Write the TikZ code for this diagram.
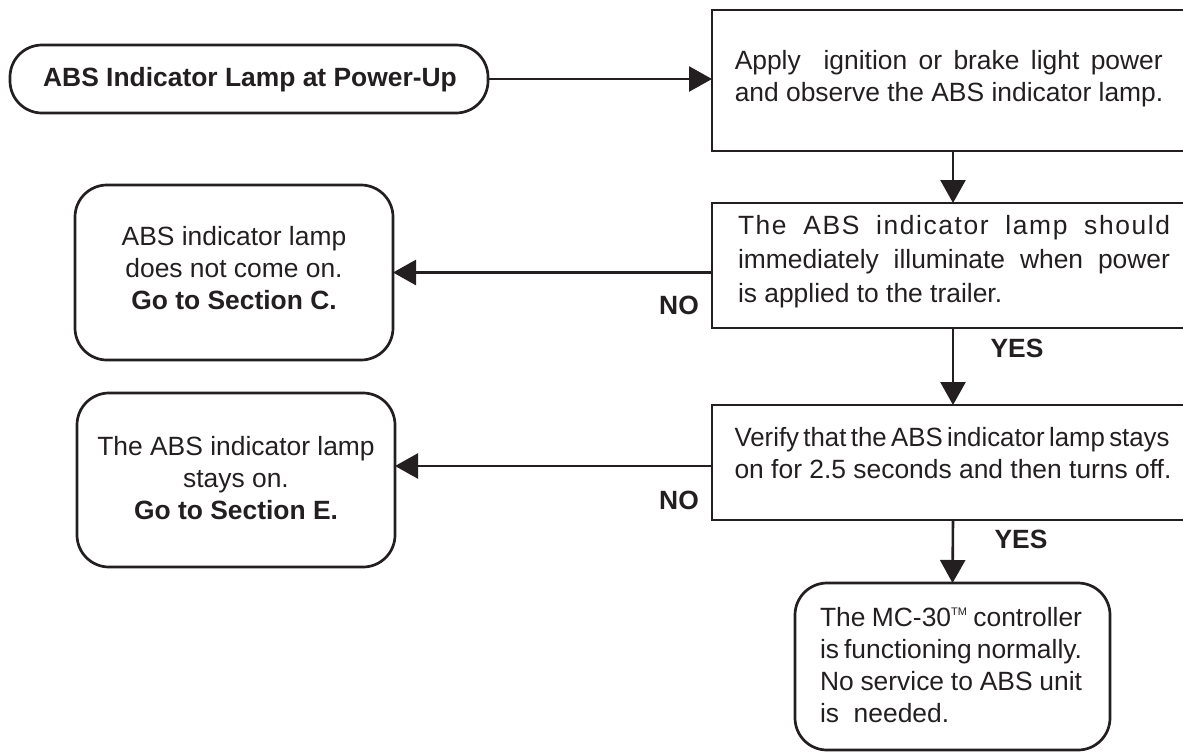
\documentclass[tikz,border=0pt]{standalone}
\usepackage{fontspec}
\setmainfont{Liberation Sans}
\usepackage{graphicx}
\usetikzlibrary{arrows.meta}
\definecolor{ink}{HTML}{231F20}
\begin{document}
\begin{tikzpicture}[x=1pt,y=-1pt,
  every node/.style={inner sep=0pt, outer sep=0pt},
  body/.style={font=\fontsize{26.4}{32}\selectfont, text=ink},
  lbl/.style={font=\fontsize{26.4}{32}\selectfont\bfseries, text=ink},
  rbox/.style={draw=ink, line width=2.7pt, rounded corners=32pt},
  sbox/.style={draw=ink, line width=2.7pt},
  arr/.style={draw=ink, line width=2.6pt, -{Triangle[length=23pt,width=25pt]}}
]
\useasboundingbox (0,0) rectangle (1183,753);
\clip (0,0) rectangle (1183,753);

% boxes
\node[rbox, minimum width=478pt, minimum height=68pt] (start) at (249,79) {};
\node[sbox, minimum width=482pt, minimum height=141pt] (b1) at (953,80.5) {};
\node[sbox, minimum width=482pt, minimum height=125pt] (b2) at (953,265.5) {};
\node[sbox, minimum width=482pt, minimum height=115pt] (b3) at (953,462.5) {};
\node[rbox, minimum width=315pt, minimum height=167pt] (fin) at (952.5,666.5) {};
\node[rbox, minimum width=318pt, minimum height=175pt] (bC) at (234,272.5) {};
\node[rbox, minimum width=318pt, minimum height=174pt] (bE) at (236,480) {};

% texts
\node[lbl] (t0) at (250,80) {ABS Indicator Lamp at Power-Up};
\node[body, align=left] (t1) at (949,79) {\makebox[428pt][s]{Apply\ \ ignition or brake light power}\\and observe the ABS indicator lamp.};
\node[body, align=left, font=\fontsize{26.4}{34}\selectfont] (t2) at (954,262) {\makebox[432pt][s]{\addfontfeature{LetterSpace=6}The ABS indicator lamp should}\\\makebox[432pt][s]{immediately illuminate when power}\\is applied to the trailer.};
\node[body, align=left] (t3) at (953,453) {\resizebox{435pt}{\height}{\spaceskip=4.5pt Verify that the ABS indicator lamp stays}\\on for 2.5 seconds and then turns off.};
\node[body, align=left, anchor=west] (t4) at (820,665) {\makebox[262pt][s]{The MC-30\raisebox{10.5pt}{\fontsize{11}{11}\selectfont TM} controller}\\\makebox[262pt][s]{is functioning normally.}\\\makebox[262pt][s]{No service to ABS unit}\\is\ \ needed.};
\node[body, align=center] (tC) at (234,268) {ABS indicator lamp\\does not come on.\\\textbf{Go to Section C.}};
\node[body, align=center] (tE) at (236,478) {The ABS indicator lamp\\stays on.\\\textbf{Go to Section E.}};

\node[lbl] (no1) at (679,305) {NO};
\node[lbl] (no2) at (679,500) {NO};
\node[lbl] (yes1) at (1017,348) {YES};
\node[lbl] (yes2) at (1021,539) {YES};

% connectors
\coordinate (yE) at (0,466);
\draw[arr] (start.east) -- (b1.west |- start.east);
\draw[arr] (b1.south) -- (b2.north);
\draw[arr] (b2.west |- bC.east) -- (bC.east);
\draw[arr] (b2.south) -- (b3.north);
\draw[arr] (b3.west |- yE) -- (bE.east |- yE);
\draw[arr] (b3.south) -- (fin.north);
\end{tikzpicture}
\end{document}
